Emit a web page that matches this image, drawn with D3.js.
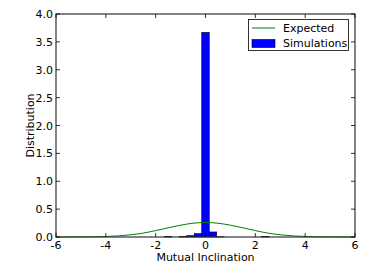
<!DOCTYPE html>
<html>
<head>
<style>
html, body {
    margin: 0;
    padding: 0;
    background: #fff;
    overflow: hidden;
}
svg text {
    font-family: "DejaVu Sans", sans-serif;
    font-size: 11px;
}
</style>
</head>
<body>
<script src="https://d3js.org/d3.v7.min.js"></script>
<script>
// histogram bins (left edges, width 0.3) and heights
const binEdges = [-1.65, -1.35, -1.05, -0.75, -0.45, -0.15, 0.15, 0.45, 0.75, 1.05, 1.35, 1.65, 1.95, 2.25, 2.55];
const binHeights = [0.008, 0, 0.008, 0.025, 0.06, 3.67, 0.09, 0.004, 0, 0, 0, 0, 0, 0.008];

// expected curve
const expX = [-6, -5.5, -5, -4.5, -4, -3.5, -3, -2.5, -2, -1.5, -1, -0.5, 0, 0.5, 1, 1.5, 2, 2.5, 3, 3.5, 4, 4.5, 5, 5.5, 6];
const expY = [0, 0.0004, 0.0015, 0.004, 0.009, 0.02, 0.04, 0.07, 0.115, 0.165, 0.212, 0.247, 0.26, 0.247, 0.212, 0.165, 0.115, 0.07, 0.04, 0.02, 0.009, 0.004, 0.0015, 0.0004, 0];

const xTicks = [-6, -4, -2, 0, 2, 4, 6];
const yTicks = [0, 0.5, 1, 1.5, 2, 2.5, 3, 3.5, 4];

const width = 374, height = 280;
const margin = {left: 56, right: 19, top: 14, bottom: 43};

const x = d3.scaleLinear().domain([-6, 6]).range([margin.left, width - margin.right]);
const y = d3.scaleLinear().domain([0, 4]).range([height - margin.bottom, margin.top]);

const svg = d3.select("body").append("svg")
    .attr("width", width)
    .attr("height", height);

// bars
svg.append("g")
    .selectAll("rect")
    .data(binHeights.map((h, i) => ({x0: binEdges[i], x1: binEdges[i + 1], h})))
    .join("rect")
        .attr("x", d => x(d.x0))
        .attr("width", d => x(d.x1) - x(d.x0))
        .attr("y", d => y(d.h))
        .attr("height", d => y(0) - y(d.h))
        .attr("fill", "#0000ff")
        .attr("stroke", "#000")
        .attr("stroke-width", 0.6);

// expected curve
const line = d3.line()
    .x(d => x(d[0]))
    .y(d => y(d[1]))
    .curve(d3.curveMonotoneX);

svg.append("path")
    .datum(expX.map((v, i) => [v, expY[i]]))
    .attr("d", line)
    .attr("fill", "none")
    .attr("stroke", "#008000")
    .attr("stroke-width", 1);

// frame
const [x0, x1] = x.range();
const [yb, yt] = y.range();
svg.append("rect")
    .attr("x", x0).attr("y", yt)
    .attr("width", x1 - x0).attr("height", yb - yt)
    .attr("fill", "none")
    .attr("stroke", "#333")
    .attr("stroke-width", 1.2);

// ticks pointing inward on all sides
const tickG = svg.append("g").attr("stroke", "#000").attr("stroke-width", 0.8);
xTicks.forEach(t => {
    tickG.append("line").attr("x1", x(t)).attr("x2", x(t)).attr("y1", yb).attr("y2", yb - 4);
    tickG.append("line").attr("x1", x(t)).attr("x2", x(t)).attr("y1", yt).attr("y2", yt + 4);
});
yTicks.forEach(t => {
    tickG.append("line").attr("x1", x0).attr("x2", x0 + 4).attr("y1", y(t)).attr("y2", y(t));
    tickG.append("line").attr("x1", x1).attr("x2", x1 - 4).attr("y1", y(t)).attr("y2", y(t));
});

svg.append("g")
    .selectAll("text")
    .data(xTicks)
    .join("text")
        .attr("x", d => x(d))
        .attr("y", yb + 12)
        .attr("text-anchor", "middle")
        .text(d => d);

svg.append("g")
    .selectAll("text")
    .data(yTicks)
    .join("text")
        .attr("x", x0 - 3)
        .attr("y", d => y(d) + 4)
        .attr("text-anchor", "end")
        .text(d => d.toFixed(1));

// axis labels
svg.append("text")
    .attr("x", (x0 + x1) / 2)
    .attr("y", yb + 24)
    .attr("text-anchor", "middle")
    .text("Mutual Inclination");

svg.append("text")
    .attr("transform", `translate(34,${(yt + yb) / 2}) rotate(-90)`)
    .attr("text-anchor", "middle")
    .text("Distribution");

// legend
const lg = svg.append("g");
lg.append("rect")
    .attr("x", 248.5).attr("y", 19.5)
    .attr("width", 100).attr("height", 31)
    .attr("fill", "#fff")
    .attr("stroke", "#000")
    .attr("stroke-width", 0.8);
lg.append("line")
    .attr("x1", 252).attr("x2", 275)
    .attr("y1", 28).attr("y2", 28)
    .attr("stroke", "#008000");
lg.append("text").attr("x", 283).attr("y", 32).text("Expected");
lg.append("rect")
    .attr("x", 252).attr("y", 39.5)
    .attr("width", 23).attr("height", 8)
    .attr("fill", "#0000ff")
    .attr("stroke", "#000")
    .attr("stroke-width", 0.6);
lg.append("text").attr("x", 283).attr("y", 47).text("Simulations");
</script>
</body>
</html>
